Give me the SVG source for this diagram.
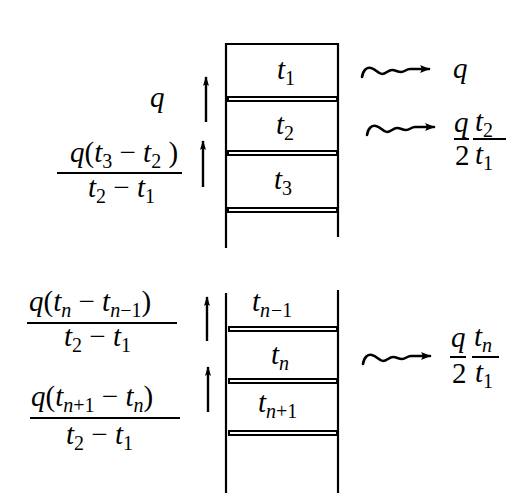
<svg xmlns="http://www.w3.org/2000/svg" width="525" height="493" viewBox="0 0 525 493">
<defs>
<marker id="ah" viewBox="0 0 10 6" refX="9" refY="3" markerWidth="10" markerHeight="6" markerUnits="userSpaceOnUse" orient="auto">
<path d="M0,0 L10,3 L0,6 Q3,3 0,0 Z" fill="#000"/>
</marker>
<marker id="ahw" viewBox="0 0 10 8" refX="9" refY="4" markerWidth="10" markerHeight="8" markerUnits="userSpaceOnUse" orient="auto">
<path d="M0,0 L10,4 L0,8 Q3,4 0,0 Z" fill="#000"/>
</marker>
<path id="wv" d="M362,77 C363,70 367,67 371,68 C376,69 378,74 382,74 C386,74 388,70 392,70 C396,70 397,72 401,72 C405,72 406,69 410,69 L429,69"/>
</defs>
<style>
.wall{stroke:#000;stroke-width:2.2;fill:none}
.plate{stroke:#000;stroke-width:2;fill:#fff}
.arr{stroke:#000;stroke-width:2.4;fill:none}
.wave{stroke:#000;stroke-width:2.6;fill:none;stroke-linecap:round}
.fl{stroke:#000;stroke-width:2}
text{font-family:"Liberation Serif","DejaVu Serif",serif;font-size:29px;fill:#000}
.i{font-style:italic}
.s{font-size:20px}
</style>
<rect width="525" height="493" fill="#fff"/>

<g id="stack-top">
<path class="wall" d="M226,248 V44 H338 V237"/>
<rect class="plate" x="228" y="97" width="109" height="4"/>
<rect class="plate" x="228" y="151" width="109" height="4"/>
<rect class="plate" x="228" y="208" width="109" height="4"/>
<text x="277" y="79"><tspan class="i">t</tspan><tspan class="s" dy="6">1</tspan></text>
<text x="276" y="134"><tspan class="i">t</tspan><tspan class="s" dy="6">2</tspan></text>
<text x="274" y="189"><tspan class="i">t</tspan><tspan class="s" dy="6">3</tspan></text>
</g>

<g id="stack-bottom">
<path class="wall" d="M226,293 V493"/>
<path class="wall" d="M338,290 V493"/>
<rect class="plate" x="229" y="327" width="108" height="4"/>
<rect class="plate" x="229" y="379" width="108" height="4"/>
<rect class="plate" x="229" y="431" width="108" height="4"/>
<text x="252" y="311"><tspan class="i">t</tspan><tspan class="s i" dy="6">n</tspan><tspan class="s" dx="1">−1</tspan></text>
<text x="271" y="364"><tspan class="i">t</tspan><tspan class="s i" dy="6">n</tspan></text>
<text x="258" y="412"><tspan class="i">t</tspan><tspan class="s i" dy="6">n</tspan><tspan class="s">+1</tspan></text>
</g>

<g id="label-q-left">
<text x="150" y="107" class="i">q</text>
</g>
<g id="label-frac1">
<text x="70" y="162"><tspan class="i">q</tspan>(<tspan class="i">t</tspan><tspan class="s" dy="6">3</tspan><tspan dy="-6"> − </tspan><tspan class="i">t</tspan><tspan class="s" dy="6">2</tspan><tspan dy="-6"> )</tspan></text>
<line class="fl" x1="57" y1="173" x2="182" y2="173"/>
<text x="88" y="197"><tspan class="i">t</tspan><tspan class="s" dy="6">2</tspan><tspan dy="-6">  − </tspan><tspan class="i">t</tspan><tspan class="s" dy="6">1</tspan></text>
</g>
<g id="label-frac2">
<text x="29" y="311"><tspan class="i">q</tspan>(<tspan class="i">t</tspan><tspan class="s i" dy="6">n</tspan><tspan dy="-6"> − </tspan><tspan class="i">t</tspan><tspan class="s i" dy="6">n</tspan><tspan class="s">−1</tspan><tspan dy="-6">)</tspan></text>
<line class="fl" x1="27" y1="323" x2="177" y2="323"/>
<text x="64" y="346"><tspan class="i">t</tspan><tspan class="s" dy="6">2</tspan><tspan dy="-6">  − </tspan><tspan class="i">t</tspan><tspan class="s" dy="6">1</tspan></text>
</g>
<g id="label-frac3">
<text x="31" y="406"><tspan class="i">q</tspan>(<tspan class="i">t</tspan><tspan class="s i" dy="6">n</tspan><tspan class="s">+1</tspan><tspan dy="-6"> − </tspan><tspan class="i">t</tspan><tspan class="s i" dy="6">n</tspan><tspan dy="-6">)</tspan></text>
<line class="fl" x1="30" y1="418" x2="180" y2="418"/>
<text x="66" y="444"><tspan class="i">t</tspan><tspan class="s" dy="6">2</tspan><tspan dy="-6">  − </tspan><tspan class="i">t</tspan><tspan class="s" dy="6">1</tspan></text>
</g>

<g id="label-q-right">
<text x="453" y="78" class="i">q</text>
</g>
<g id="label-r2">
<text x="454" y="132" class="i">q</text>
<line class="fl" x1="454" y1="139" x2="469" y2="139"/>
<text x="455" y="165">2</text>
<text x="475" y="131"><tspan class="i">t</tspan><tspan class="s" dy="6">2</tspan></text>
<line class="fl" x1="473" y1="139" x2="506" y2="139"/>
<text x="475" y="164"><tspan class="i">t</tspan><tspan class="s" dy="6">1</tspan></text>
</g>
<g id="label-r3">
<text x="451" y="347" class="i">q</text>
<line class="fl" x1="450" y1="357" x2="466" y2="357"/>
<text x="452" y="383">2</text>
<text x="474" y="346"><tspan class="i">t</tspan><tspan class="s i" dy="6">n</tspan></text>
<line class="fl" x1="472" y1="357" x2="499" y2="357"/>
<text x="475" y="382"><tspan class="i">t</tspan><tspan class="s" dy="6">1</tspan></text>
</g>

<g id="connectors">
<line class="arr" x1="206" y1="122" x2="206" y2="77" marker-end="url(#ah)"/>
<line class="arr" x1="203" y1="187" x2="203" y2="141" marker-end="url(#ah)"/>
<line class="arr" x1="207" y1="341" x2="207" y2="297" marker-end="url(#ah)"/>
<line class="arr" x1="208" y1="412" x2="208" y2="367" marker-end="url(#ah)"/>
<use href="#wv" class="wave" marker-end="url(#ahw)"/>
<use href="#wv" class="wave" transform="translate(5,58)" marker-end="url(#ahw)"/>
<use href="#wv" class="wave" transform="translate(1,287)" marker-end="url(#ahw)"/>
</g>
</svg>
